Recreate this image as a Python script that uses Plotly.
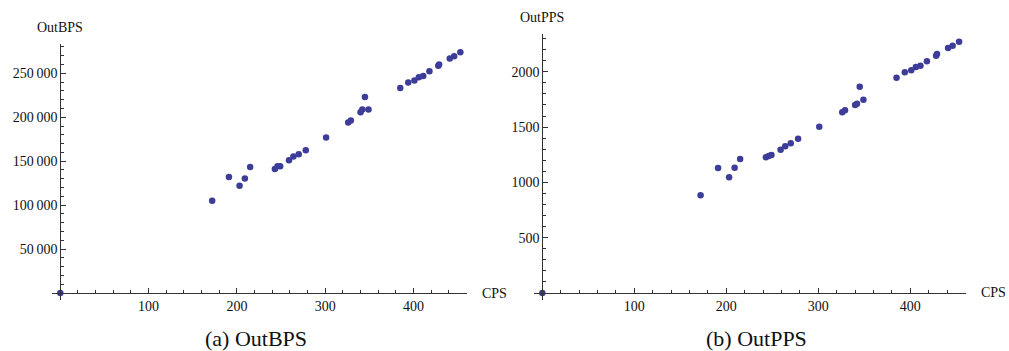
import plotly.graph_objects as go
from plotly.subplots import make_subplots

# ---------------- data ----------------
cps = [0, 172, 191, 203, 209, 215, 243, 246, 249, 259, 264, 270, 278, 301,
       326, 329, 340, 342, 345, 349, 385, 394, 401, 406, 411, 418, 428, 429,
       441, 446, 453]
out_bps = [0, 105000, 132000, 122000, 130300, 143500, 141200, 144300, 144300,
           151100, 155300, 158000, 162500, 177000, 194000, 196200, 205700,
           208700, 223000, 208700, 233300, 239400, 241700, 245400, 247000,
           252300, 258700, 259900, 266700, 269300, 273900]
out_pps = [0, 883, 1130, 1046, 1133, 1212, 1227, 1239, 1248, 1296, 1326, 1353,
           1395, 1504, 1634, 1652, 1700, 1712, 1865, 1748, 1947, 1995, 2014,
           2043, 2055, 2095, 2146, 2161, 2215, 2236, 2272]

x_ticks = [100, 200, 300, 400]
bps_ticks = [50000, 100000, 150000, 200000, 250000]
bps_labels = ["50\u2009000", "100\u2009000", "150\u2009000", "200\u2009000", "250\u2009000"]
pps_ticks = [500, 1000, 1500, 2000]
pps_labels = ["500", "1000", "1500", "2000"]

# ---------------- style ----------------
W, H = 1009, 351
FONT = "Liberation Serif"
PT_COLOR = "#3d3d99"
AX_COLOR = "#333333"

panels = [
    dict(y=out_bps, xr=[-9.5, 461], yr=[-7954, 283000],
         xdom=[51.9 / W, 467.4 / W], ydom=[(H - 300) / H, (H - 44.3) / H],
         yticks=bps_ticks, ylabels=bps_labels, ydt=10000,
         ytitle="OutBPS", caption="(a) OutBPS", capx=256 / W),
    dict(y=out_pps, xr=[-9.5, 460.5], yr=[-63.3, 2339],
         xdom=[533.6 / W, 966 / W], ydom=[(H - 300) / H, (H - 34.3) / H],
         yticks=pps_ticks, ylabels=pps_labels, ydt=100,
         ytitle="OutPPS", caption="(b) OutPPS", capx=756 / W),
]

fig = go.Figure()
annotations = []
for i, p in enumerate(panels, start=1):
    xa = "x" if i == 1 else f"x{i}"
    ya = "y" if i == 1 else f"y{i}"
    fig.add_trace(go.Scatter(
        x=cps, y=p["y"], mode="markers", xaxis=xa, yaxis=ya,
        marker=dict(size=6.5, color=PT_COLOR, line=dict(width=0)),
        showlegend=False, cliponaxis=False))

    # paper positions of the data zero on each axis
    x0p = p["xdom"][0] + (0 - p["xr"][0]) / (p["xr"][1] - p["xr"][0]) * (p["xdom"][1] - p["xdom"][0])
    y0p = p["ydom"][0] + (0 - p["yr"][0]) / (p["yr"][1] - p["yr"][0]) * (p["ydom"][1] - p["ydom"][0])

    xkey = "xaxis" if i == 1 else f"xaxis{i}"
    ykey = "yaxis" if i == 1 else f"yaxis{i}"
    fig.update_layout({
        xkey: dict(domain=p["xdom"], range=p["xr"], anchor="free", position=y0p,
                   showgrid=False, zeroline=False, showline=True,
                   linecolor=AX_COLOR, linewidth=1,
                   tickmode="array", tickvals=x_ticks,
                   ticks="inside", ticklen=5, tickcolor=AX_COLOR, tickwidth=1,
                   tickfont=dict(family=FONT, size=14, color="#111111"),
                   minor=dict(tickmode="linear", tick0=0, dtick=20, ticks="inside",
                              ticklen=3, tickcolor=AX_COLOR, tickwidth=1, showgrid=False),
                   fixedrange=True),
        ykey: dict(domain=p["ydom"], range=p["yr"], anchor="free", position=x0p,
                   showgrid=False, zeroline=False, showline=True,
                   linecolor=AX_COLOR, linewidth=1,
                   tickmode="array", tickvals=p["yticks"], ticktext=p["ylabels"],
                   ticks="inside", ticklen=5, tickcolor=AX_COLOR, tickwidth=1,
                   tickfont=dict(family=FONT, size=14, color="#111111"),
                   minor=dict(tickmode="linear", tick0=0, dtick=p["ydt"], ticks="inside",
                              ticklen=3, tickcolor=AX_COLOR, tickwidth=1, showgrid=False),
                   fixedrange=True),
    })

    # axis titles (Mathematica style: at the ends of the axes)
    annotations.append(dict(text=p["ytitle"], x=x0p, y=p["ydom"][1] + 17 / H,
                            xref="paper", yref="paper", xanchor="center", yanchor="middle",
                            showarrow=False, font=dict(family=FONT, size=14, color="#111111")))
    annotations.append(dict(text="CPS", x=p["xdom"][1] + 13 / W, y=y0p,
                            xref="paper", yref="paper", xanchor="left", yanchor="middle",
                            showarrow=False, font=dict(family=FONT, size=14, color="#111111")))
    annotations.append(dict(text=p["caption"], x=p["capx"], y=(H - 338) / H,
                            xref="paper", yref="paper", xanchor="center", yanchor="middle",
                            showarrow=False, font=dict(family=FONT, size=22, color="#111111")))

fig.update_layout(
    width=W, height=H,
    margin=dict(l=0, r=0, t=0, b=0),
    paper_bgcolor="white", plot_bgcolor="white",
    annotations=annotations,
    showlegend=False,
)

fig.write_html("out.html", config={"displayModeBar": False})
